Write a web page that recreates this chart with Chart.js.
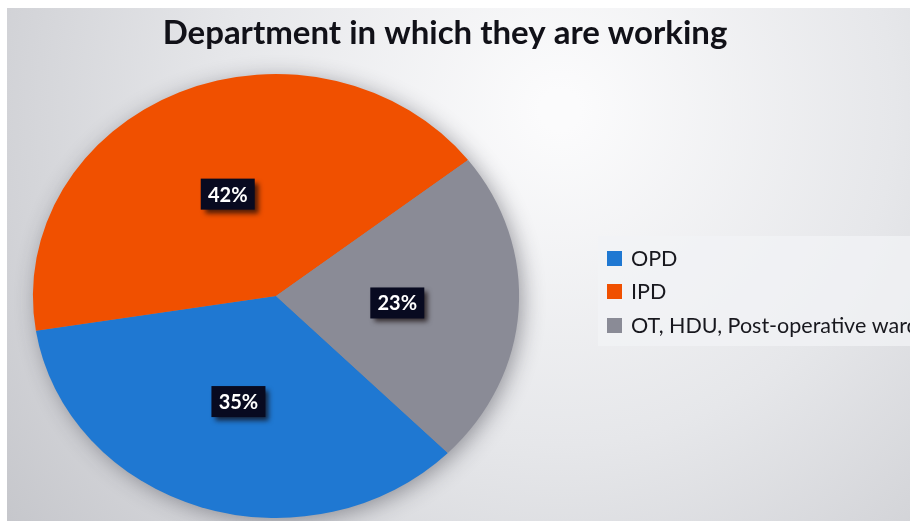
<!DOCTYPE html>
<html>
<head>
<meta charset="utf-8">
<script src="https://cdn.jsdelivr.net/npm/chart.js@4"></script>
<style>
  html, body { margin: 0; padding: 0; background: #fff; }
  #deptChart { display: block; }
</style>
</head>
<body>
<canvas id="deptChart" width="910" height="521"></canvas>
<script>
const departments = ["OPD", "IPD", "OT, HDU, Post-operative ward"];
const shares = [35, 42, 23];
const sliceColors = ["#1f78d2", "#f05000", "#8a8b96"];
const chartTitle = "Department in which they are working";

// the pie is drawn a little wider than tall
const stretchX = 1.095;

function pieCenter(chart) {
    const meta = chart.getDatasetMeta(0);
    const arc = meta.data[0];
    return { x: arc.x, y: arc.y, r: arc.outerRadius };
}

const backdrop = {
    id: "backdrop",
    beforeDraw(chart) {
        const ctx = chart.ctx;
        const w = chart.width, h = chart.height;
        ctx.save();
        ctx.fillStyle = "#ffffff";
        ctx.fillRect(0, 0, w, h);
        const g = ctx.createRadialGradient(560, 110, 20, 560, 110, 720);
        g.addColorStop(0, "#fbfbfc");
        g.addColorStop(0.45, "#e6e7ea");
        g.addColorStop(1, "#c3c4c9");
        ctx.fillStyle = g;
        ctx.fillRect(7, 8, w - 7, h - 8);

        // title
        ctx.fillStyle = "#111118";
        ctx.font = "bold 33px Lato";
        ctx.textAlign = "center";
        ctx.textBaseline = "middle";
        ctx.fillText(chartTitle, 445, 33);

        // legend panel
        ctx.fillStyle = "rgba(242,243,246,0.75)";
        ctx.fillRect(598, 236, w - 598, 110);
        ctx.font = "21.5px Lato";
        ctx.textAlign = "left";
        const rows = [258, 291, 325];
        departments.forEach((name, i) => {
            ctx.fillStyle = sliceColors[i];
            ctx.fillRect(607, rows[i] - 7, 15, 15);
            ctx.fillStyle = "#18181e";
            ctx.fillText(name, 631, rows[i] + 1);
        });
        ctx.restore();
    },
    beforeDatasetsDraw(chart) {
        const ctx = chart.ctx;
        const c = pieCenter(chart);
        ctx.save();
        ctx.translate(c.x, c.y);
        ctx.scale(stretchX, 1);
        ctx.translate(-c.x, -c.y);
        // soft shadow under the whole pie
        ctx.save();
        ctx.shadowColor = "rgba(40,40,50,0.45)";
        ctx.shadowBlur = 22;
        ctx.shadowOffsetX = 4;
        ctx.shadowOffsetY = 4;
        ctx.fillStyle = "#8a8b96";
        ctx.beginPath();
        ctx.arc(c.x, c.y, c.r - 1, 0, Math.PI * 2);
        ctx.fill();
        ctx.restore();
    },
    afterDatasetsDraw(chart) {
        const ctx = chart.ctx;
        ctx.restore();
        const c = pieCenter(chart);
        const meta = chart.getDatasetMeta(0);
        ctx.save();
        ctx.font = "bold 20px Lato";
        ctx.textAlign = "center";
        ctx.textBaseline = "middle";
        meta.data.forEach((arc, i) => {
            const p = arc.tooltipPosition();
            const x = c.x + (p.x - c.x) * stretchX;
            const y = p.y;
            const label = shares[i] + "%";
            const bw = 54, bh = 31;
            ctx.save();
            ctx.shadowColor = "rgba(20,10,10,0.75)";
            ctx.shadowBlur = 5;
            ctx.shadowOffsetX = 4;
            ctx.shadowOffsetY = 4;
            ctx.fillStyle = "#080a20";
            ctx.fillRect(x - bw / 2, y - bh / 2, bw, bh);
            ctx.restore();
            ctx.fillStyle = "#ffffff";
            ctx.fillText(label, x, y + 1);
        });
        ctx.restore();
    }
};

const ctx = document.getElementById("deptChart").getContext("2d");
const deptChart = new Chart(ctx, {
    type: "pie",
    data: {
        labels: departments,
        datasets: [{
            data: shares,
            backgroundColor: sliceColors,
            borderWidth: 0
        }]
    },
    options: {
        responsive: false,
        animation: false,
        rotation: 135,
        layout: {
            padding: { top: 74, bottom: 3, left: 54, right: 412 }
        },
        plugins: {
            legend: { display: false },
            title: { display: false },
            tooltip: { enabled: false }
        }
    },
    plugins: [backdrop]
});
</script>
</body>
</html>
